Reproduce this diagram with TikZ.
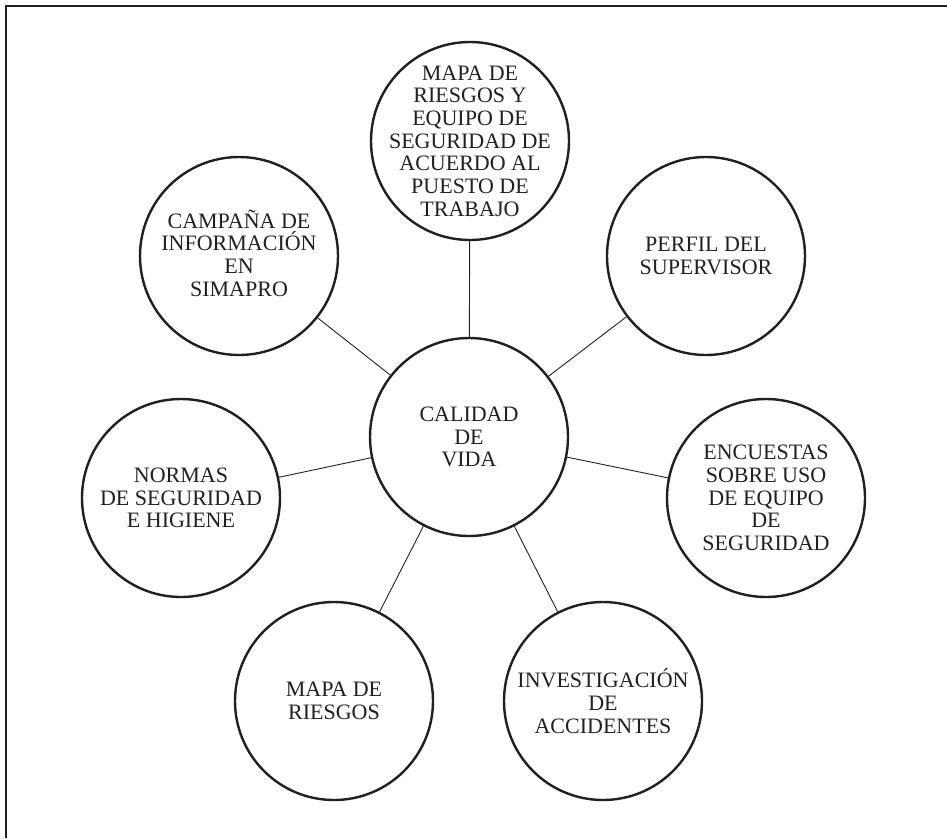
\documentclass[tikz,border=0pt]{standalone}
\usepackage{fontspec}
\setmainfont{Liberation Serif}
\definecolor{ink}{HTML}{231F20}
\begin{document}
\begin{tikzpicture}[x=1pt,y=-1pt,
  bub/.style={circle, draw=ink, line width=2.4pt, minimum size=198pt, inner sep=0pt},
  lbl/.style={align=center, font=\fontsize{22}{22.7}\selectfont, text=ink, inner sep=0pt},
  link/.style={draw=ink, line width=0.9pt},
  frame/.style={draw=ink, line width=1.2pt}]
\useasboundingbox (0,0) rectangle (947,838);
\coordinate (fr) at (947,6);
\coordinate (fc) at (6,6);
\coordinate (fb) at (6,838);
\draw[frame] (fr) -- (fc) -- (fb);

\node[bub] (c)  at (469,437) {};
\node[bub] (t)  at (470,141) {};
\node[bub] (cp) at (239,256) {};
\node[bub] (pf) at (706,256) {};
\node[bub] (nr) at (181,498) {};
\node[bub] (en) at (766,498) {};
\node[bub] (mr) at (334,701) {};
\node[bub] (iv) at (603,701) {};

\node[lbl] (ct)  at (c)  {CALIDAD\\DE\\VIDA};
\node[lbl] (tt)  at (t)  {MAPA DE\\RIESGOS Y\\EQUIPO DE\\SEGURIDAD DE\\ACUERDO AL\\PUESTO DE\\TRABAJO};
\node[lbl] (cpt) at ([yshift=3]cp) {CAMPAÑA DE\\INFORMACIÓN\\EN\\SIMAPRO};
\node[lbl] (pft) at (pf) {PERFIL DEL\\SUPERVISOR};
\node[lbl] (nrt) at (nr) {NORMAS\\DE SEGURIDAD\\E HIGIENE};
\node[lbl] (ent) at (en) {ENCUESTAS\\SOBRE USO\\DE EQUIPO\\DE\\SEGURIDAD};
\node[lbl] (mrt) at (mr) {MAPA DE\\RIESGOS};
\node[lbl] (ivt) at (iv) {INVESTIGACIÓN\\DE\\ACCIDENTES};

\draw[link] (c) -- (t);
\draw[link] (c) -- (cp);
\draw[link] (c) -- (pf);
\draw[link] (c) -- (nr);
\draw[link] (c) -- (en);
\draw[link] (c) -- (mr);
\draw[link] (c) -- (iv);
\end{tikzpicture}
\end{document}
